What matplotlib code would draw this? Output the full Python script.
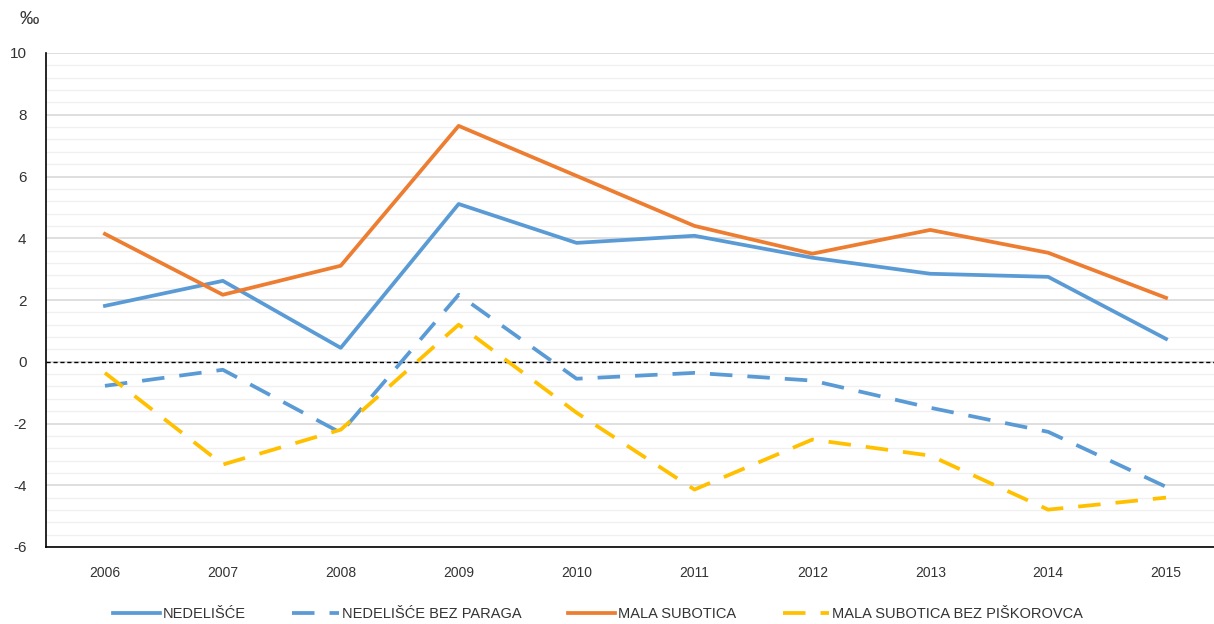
import matplotlib
matplotlib.use("Agg")
import matplotlib.pyplot as plt
from matplotlib.ticker import MultipleLocator

plt.rcParams["font.family"] = ["Liberation Sans", "DejaVu Sans"]
plt.rcParams["axes.unicode_minus"] = False

years = [2006, 2007, 2008, 2009, 2010, 2011, 2012, 2013, 2014, 2015]
nedelisce = [1.81, 2.62, 0.45, 5.11, 3.85, 4.08, 3.37, 2.85, 2.75, 0.74]
nedelisce_bez = [-0.78, -0.26, -2.30, 2.17, -0.55, -0.36, -0.61, -1.49, -2.27, -4.05]
mala_subotica = [4.14, 2.17, 3.11, 7.64, 6.02, 4.40, 3.50, 4.27, 3.53, 2.07]
mala_subotica_bez = [-0.36, -3.33, -2.20, 1.20, -1.65, -4.14, -2.52, -3.04, -4.79, -4.40]

labels = ["NEDELIŠĆE", "NEDELIŠĆE BEZ PARAGA", "MALA SUBOTICA",
          "MALA SUBOTICA BEZ PIŠKOROVCA"]

BLUE = "#5B9BD5"
ORANGE = "#ED7D31"
YELLOW = "#FFC000"

fig = plt.figure(figsize=(12.14, 6.24), dpi=100)
ax = fig.add_axes([46 / 1214, 1 - 547 / 624, (1225 - 46) / 1214, (547 - 53) / 624])

ax.set_xlim(2005.5, 2015.5)
ax.set_ylim(-6, 10)
ax.yaxis.set_major_locator(MultipleLocator(2))
ax.yaxis.set_minor_locator(MultipleLocator(0.4))
ax.set_xticks(years)
ax.grid(which="major", axis="y", color="#d9d9d9", lw=1.2)
ax.grid(which="minor", axis="y", color="#f0f0f0", lw=1.0)
ax.set_axisbelow(True)
for side in ("top", "right"):
    ax.spines[side].set_visible(False)
ax.spines["left"].set_color("black")
ax.spines["bottom"].set_color("black")
ax.spines["left"].set_linewidth(1.2)
ax.spines["bottom"].set_linewidth(1.2)
ax.tick_params(which="both", length=0, colors="#333333")
ax.tick_params(axis="y", pad=14, labelsize=11)
ax.tick_params(axis="x", pad=14, labelsize=10)

ax.axhline(0, color="black", lw=1.0, ls=(0, (3, 2)), zorder=2)

lw = 2.7
dash = (0, (6, 4))
ax.plot(years, nedelisce, color=BLUE, lw=lw, label=labels[0], zorder=3)
ax.plot(years, nedelisce_bez, color=BLUE, lw=lw, ls=dash, label=labels[1], zorder=3)
ax.plot(years, mala_subotica, color=ORANGE, lw=lw, label=labels[2], zorder=3)
ax.plot(years, mala_subotica_bez, color=YELLOW, lw=lw, ls=dash, label=labels[3], zorder=3)

fig.text(20 / 1214, 1 - 20 / 624, "‰", fontsize=14, color="#333333",
         ha="left", va="center")

fig.legend(loc="center", bbox_to_anchor=(598 / 1214, 1 - 614 / 624), ncol=4,
           frameon=False, fontsize=10.5, handlelength=3.2, handletextpad=0.2,
           columnspacing=3.2, labelcolor="#333333")

fig.savefig("out.png", dpi=100)
